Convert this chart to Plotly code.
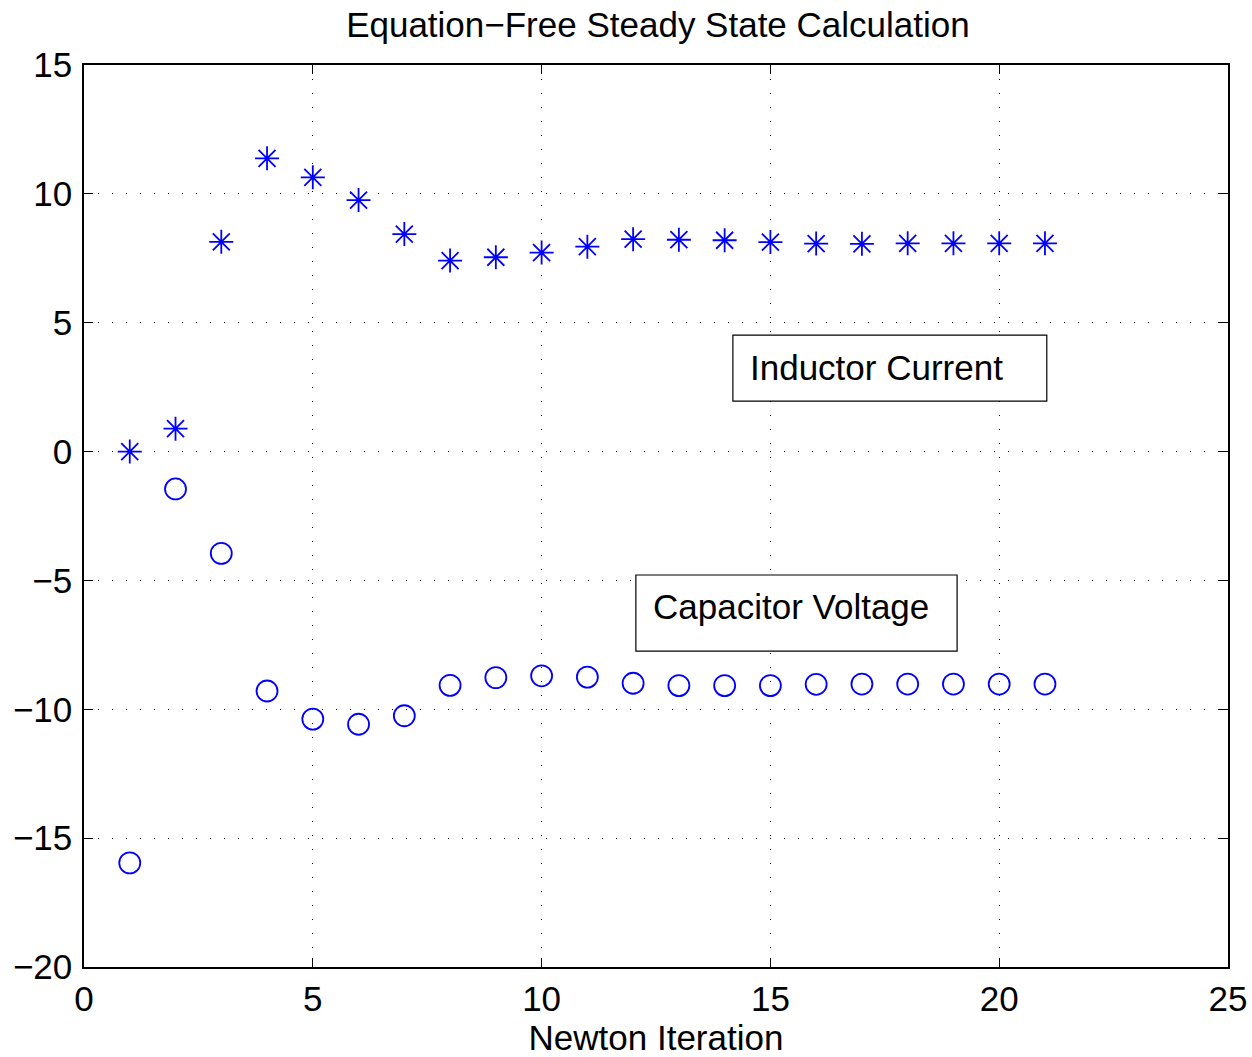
import plotly.graph_objects as go

iterations = list(range(1, 22))
inductor_current = [0.0, 0.89, 8.14, 11.38, 10.64, 9.76, 8.44, 7.41, 7.54, 7.72, 7.95,
                    8.24, 8.22, 8.20, 8.13, 8.07, 8.06, 8.08, 8.08, 8.08, 8.08]
capacitor_voltage = [-15.96, -1.45, -3.95, -9.29, -10.38, -10.58, -10.25, -9.07, -8.77, -8.70,
                     -8.75, -8.99, -9.08, -9.08, -9.08, -9.03, -9.02, -9.02, -9.02, -9.02, -9.02]

x_ticks = [0, 5, 10, 15, 20, 25]
y_ticks = [15, 10, 5, 0, -5, -10, -15, -20]
y_tick_text = ["15", "10", "5", "0", "\u22125", "\u221210", "\u221215", "\u221220"]

FONT = "Liberation Sans, Arial, sans-serif"
BLUE = "#0000FF"

fig = go.Figure()
fig.add_trace(go.Scatter(x=iterations, y=inductor_current, mode="markers",
                         marker=dict(symbol="asterisk-open", size=20, color=BLUE,
                                     line=dict(color=BLUE, width=1.8)),
                         name="Inductor Current", showlegend=False))
fig.add_trace(go.Scatter(x=iterations, y=capacitor_voltage, mode="markers",
                         marker=dict(symbol="circle-open", size=21, color=BLUE,
                                     line=dict(color=BLUE, width=1.8)),
                         name="Capacitor Voltage", showlegend=False))

# Text boxes
boxes = [
    dict(x0=14.18, x1=21.04, y0=1.96, y1=4.52, tx=14.5, ty=3.26, text="Inductor Current"),
    dict(x0=12.06, x1=19.08, y0=-7.74, y1=-4.79, tx=12.38, ty=-6.0, text="Capacitor Voltage"),
]
for b in boxes:
    fig.add_shape(type="rect", xref="x", yref="y", x0=b["x0"], x1=b["x1"], y0=b["y0"], y1=b["y1"],
                  line=dict(color="black", width=1.2), fillcolor="white", layer="above")
    fig.add_annotation(x=b["tx"], y=b["ty"], xref="x", yref="y", text=b["text"], showarrow=False,
                       xanchor="left", yanchor="middle",
                       font=dict(family=FONT, size=35, color="black"))

axis_common = dict(showline=True, linecolor="black", linewidth=1.5, mirror="ticks",
                   ticks="inside", ticklen=9, tickcolor="black", tickwidth=1,
                   showgrid=True, gridcolor="black", gridwidth=1, griddash="1px,13px",
                   zeroline=False, automargin=False,
                   tickfont=dict(family=FONT, size=35, color="black"))

fig.update_xaxes(range=[0, 25], tickvals=x_ticks, ticktext=[str(v) for v in x_ticks],
                 title=dict(text="Newton Iteration", font=dict(family=FONT, size=35, color="black"),
                            standoff=10),
                 **axis_common)
fig.update_yaxes(range=[-20, 15], tickvals=y_ticks, ticktext=y_tick_text,
                 ticklabelstandoff=3, **axis_common)

fig.update_layout(
    width=1252, height=1057,
    margin=dict(l=84, r=24, t=65, b=90),
    paper_bgcolor="white", plot_bgcolor="white",
    title=dict(text="Equation\u2212Free Steady State Calculation", x=0.5255, xanchor="center",
               y=1 - 25 / 1057, yanchor="middle",
               font=dict(family=FONT, size=35, color="black")),
    showlegend=False,
)

fig.write_html("out.html")
